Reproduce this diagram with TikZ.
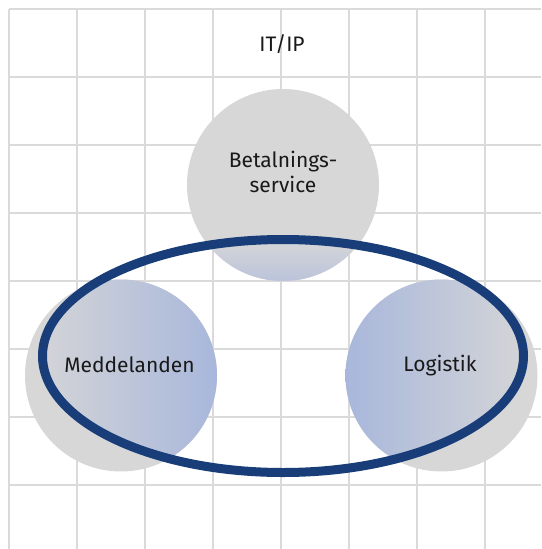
\documentclass[tikz,border=0pt]{standalone}
\usepackage{fontspec}
\setmainfont{Fira Sans}
\definecolor{gridC}{RGB}{218,218,218}
\definecolor{grayC}{RGB}{215,215,215}
\definecolor{blueC}{RGB}{168,183,219}
\definecolor{blueB}{RGB}{186,195,219}
\definecolor{ringC}{RGB}{24,61,120}
\definecolor{txtC}{RGB}{25,25,25}
\tikzset{
  gridline/.style={draw=gridC, line width=1.5pt},
  disc/.style={fill=grayC},
  ring/.style={draw=ringC, line width=9pt},
  lbl/.style={text=txtC, font=\fontsize{21}{25}\selectfont, align=center, inner sep=0pt}
}
\begin{document}
\begin{tikzpicture}[x=1pt,y=-1pt]
\useasboundingbox (0,0) rectangle (541,549);
% grid
\foreach \k in {0,...,7}{
  \draw[gridline] ({9+68*\k},9) -- ({9+68*\k},549);
  \draw[gridline] (9,{9+68*\k}) -- (541,{9+68*\k});
}
% gray discs
\fill[disc] (283,185) circle (96);
\fill[disc] (121,375.5) circle (96);
\fill[disc] (441.5,375.5) circle (96);
% shaded parts inside the ring
\begin{scope}
  \clip (283,356) ellipse [x radius=240.5, y radius=116.5];
  \shade[left color=grayC, right color=blueC] (121,375.5) circle (96);
  \shade[left color=blueC, right color=grayC] (441.5,375.5) circle (96);
  \clip (283,185) circle (96);
  \shade[top color=grayC, bottom color=blueB] (180,238) rectangle (390,282);
\end{scope}
% ring
\draw[ring] (283,356) ellipse [x radius=240.5, y radius=116.5];
% labels
\node[lbl] (itip) at (282,44) {IT/IP};
\node[lbl] (betal) at (283,172) {Betalnings-\\service};
\node[lbl] (medd) at (129.5,365) {Meddelanden};
\node[lbl] (logi) at (440,366) {Logistik};
\end{tikzpicture}
\end{document}
